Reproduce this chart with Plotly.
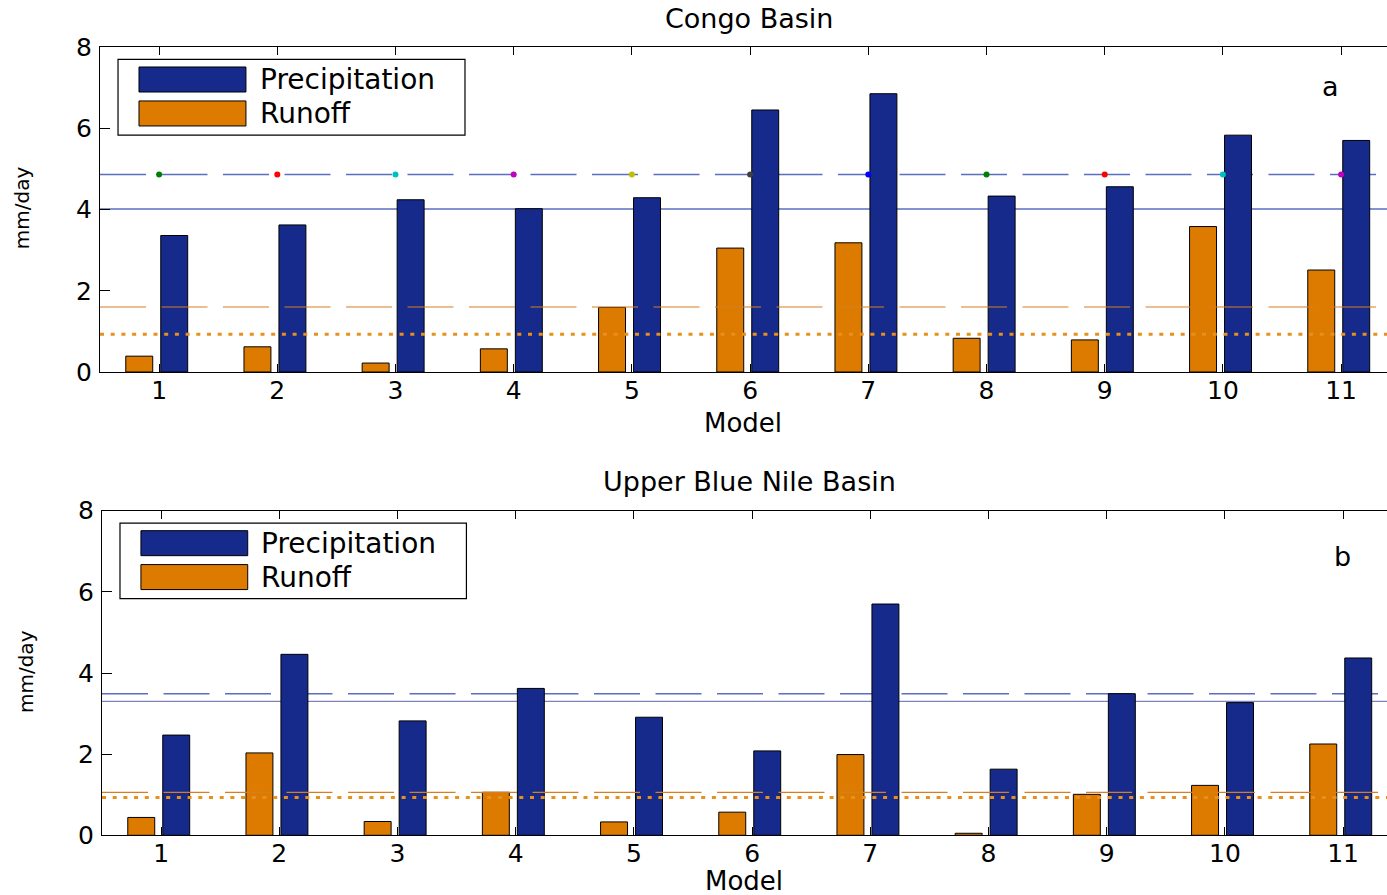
import plotly.graph_objects as go

# ---------------- data ----------------
models = list(range(1, 12))
tick_labels = [str(m) for m in models]

congo_precip = [3.36, 3.62, 4.24, 4.02, 4.29, 6.45, 6.85, 4.33, 4.56, 5.83, 5.70]
congo_runoff = [0.39, 0.62, 0.22, 0.57, 1.59, 3.05, 3.18, 0.83, 0.79, 3.58, 2.51]
congo_precip_dashed = 4.86
congo_precip_solid = 4.01
congo_runoff_dashed = 1.60
congo_runoff_dotted = 0.93

nile_precip = [2.47, 4.46, 2.82, 3.62, 2.91, 2.08, 5.70, 1.63, 3.49, 3.27, 4.37]
nile_runoff = [0.44, 2.03, 0.34, 1.06, 0.33, 0.57, 1.99, 0.05, 1.01, 1.23, 2.25]
nile_precip_dashed = 3.49
nile_precip_solid = 3.30
nile_runoff_dashed = 1.06
nile_runoff_dotted = 0.93

model_dot_colors = ["#008000", "#ff0000", "#00bfbf", "#bf00bf", "#bfbf00",
                    "#404040", "#0000ff", "#008000", "#ff0000", "#00bfbf", "#bf00bf"]

series_names = ["Precipitation", "Runoff"]
panel_titles = ["Congo Basin", "Upper Blue Nile Basin"]
panel_letters = ["a", "b"]

# ---------------- styles ----------------
W, H = 1387, 895
FONT = "DejaVu Sans"
BLUE = "#152a8a"
ORANGE = "#dd7b00"
LINE_BLUE = "#5b6ec0"
LINE_BLUE2 = "#7c84bc"
LINE_ORANGE = "#d57f22"
DOT_ORANGE = "#e8901e"
DASH = "46px,15.5px"
DOT = "4px,6.7px"
BAR_W = 0.228

fig = go.Figure()

panels = [
    dict(xa="x", ya="y", precip=congo_precip, runoff=congo_runoff,
         pd=congo_precip_dashed, ps=congo_precip_solid, rd=congo_runoff_dashed,
         rdot=congo_runoff_dotted, dots=True, solid_col=LINE_BLUE, solid_w=1.5),
    dict(xa="x2", ya="y2", precip=nile_precip, runoff=nile_runoff,
         pd=nile_precip_dashed, ps=nile_precip_solid, rd=nile_runoff_dashed,
         rdot=nile_runoff_dotted, dots=False, solid_col=LINE_BLUE2, solid_w=1.1),
]

shapes = []
annotations = []

for p in panels:
    xa, ya = p["xa"], p["ya"]
    xd = f"{xa} domain"
    # blue reference lines (behind bars)
    shapes.append(dict(type="line", xref=xd, yref=ya, x0=0, x1=1, y0=p["pd"], y1=p["pd"],
                       line=dict(color=LINE_BLUE, width=1.5, dash=DASH), layer="below"))
    shapes.append(dict(type="line", xref=xd, yref=ya, x0=0, x1=1, y0=p["ps"], y1=p["ps"],
                       line=dict(color=p["solid_col"], width=p["solid_w"]), layer="below"))
    if p["dots"]:
        fig.add_trace(go.Scatter(x=models, y=[p["pd"]] * len(models), mode="markers",
                                 xaxis=xa, yaxis=ya,
                                 marker=dict(color=model_dot_colors, size=6, line=dict(width=0)),
                                 showlegend=False, hoverinfo="skip"))
    # bars
    fig.add_trace(go.Bar(x=models, y=p["runoff"], xaxis=xa, yaxis=ya, name=series_names[1],
                         width=BAR_W, offset=-0.282,
                         marker=dict(color=ORANGE, line=dict(color="black", width=1)),
                         showlegend=False))
    fig.add_trace(go.Bar(x=models, y=p["precip"], xaxis=xa, yaxis=ya, name=series_names[0],
                         width=BAR_W, offset=0.014,
                         marker=dict(color=BLUE, line=dict(color="black", width=1)),
                         showlegend=False))
    # orange reference lines (on top)
    shapes.append(dict(type="line", xref=xd, yref=ya, x0=0, x1=1, y0=p["rd"], y1=p["rd"],
                       line=dict(color=LINE_ORANGE, width=1.2, dash=DASH), layer="above"))
    shapes.append(dict(type="line", xref=xd, yref=ya, x0=0, x1=1, y0=p["rdot"], y1=p["rdot"],
                       line=dict(color=DOT_ORANGE, width=3, dash=DOT), layer="above"))

axis_common = dict(showgrid=False, zeroline=False, showline=True, linecolor="black",
                   linewidth=1.2, ticks="inside", tickcolor="black", automargin=False,
                   tickfont=dict(family=FONT, size=25, color="black"))

top_dom = [1 - 372 / H, 1 - 47 / H]
bot_dom = [1 - 835.3 / H, 1 - 510.7 / H]

fig.update_layout(
    width=W, height=H, autosize=False,
    margin=dict(l=0, r=0, t=0, b=0, pad=0, autoexpand=False),
    paper_bgcolor="white", plot_bgcolor="white",
    barmode="overlay", showlegend=False,
    xaxis=dict(domain=[100 / W, 1], range=[0.5, 0.5 + 1287 / 118.2], anchor="y",
               tickvals=models, ticktext=tick_labels, mirror="ticks", ticklen=8,
               ticklabelstandoff=-4, **axis_common),
    yaxis=dict(domain=top_dom, range=[0, 8], dtick=2, anchor="x", ticklen=10,
               ticklabelstandoff=2, **axis_common),
    xaxis2=dict(domain=[102 / W, 1], range=[0.5, 0.5 + 1285 / 118.2], anchor="y2",
                tickvals=models, ticktext=tick_labels, mirror="ticks", ticklen=8,
                ticklabelstandoff=-4, **axis_common),
    yaxis2=dict(domain=bot_dom, range=[0, 8], dtick=2, anchor="x2", ticklen=10,
                ticklabelstandoff=2, **axis_common),
)

# custom legends, titles and labels
for i, (xa, ya) in enumerate([("x", "y"), ("x2", "y2")]):
    xr, yr = f"{xa} domain", f"{ya} domain"
    shapes.append(dict(type="rect", xref=xr, yref=yr, x0=0.014, x1=0.2836, y0=0.729, y1=0.962,
                       line=dict(color="black", width=1.2), fillcolor="white", layer="above"))
    shapes.append(dict(type="rect", xref=xr, yref=yr, x0=0.0303, x1=0.1134, y0=0.8615, y1=0.9385,
                       line=dict(color="black", width=1), fillcolor=BLUE, layer="above"))
    shapes.append(dict(type="rect", xref=xr, yref=yr, x0=0.0303, x1=0.1134, y0=0.757, y1=0.834,
                       line=dict(color="black", width=1), fillcolor=ORANGE, layer="above"))
    annotations.append(dict(xref=xr, yref=yr, x=0.1225, y=0.899, text=series_names[0],
                            showarrow=False, xanchor="left", yanchor="middle",
                            font=dict(family=FONT, size=28, color="black")))
    annotations.append(dict(xref=xr, yref=yr, x=0.1225, y=0.795, text=series_names[1],
                            showarrow=False, xanchor="left", yanchor="middle",
                            font=dict(family=FONT, size=28, color="black")))
    annotations.append(dict(xref=xr, yref=yr, x=0.504, y=1.089, text=panel_titles[i],
                            showarrow=False, xanchor="center", yanchor="middle",
                            font=dict(family=FONT, size=27, color="black")))
    annotations.append(dict(xref=xr, yref=yr, x=0.4995, y=[-0.156, -0.140][i], text="Model",
                            showarrow=False, xanchor="center", yanchor="middle",
                            font=dict(family=FONT, size=26, color="black")))
    annotations.append(dict(xref=xr, yref=yr, x=[0.956, 0.965][i], y=[0.877, 0.860][i],
                            text=panel_letters[i], showarrow=False, xanchor="center",
                            yanchor="middle", font=dict(family=FONT, size=27, color="black")))
    annotations.append(dict(xref="paper", yref=yr, x=[22, 26][i] / W, y=[0.504, 0.503][i],
                            text="mm/day", showarrow=False, textangle=-90,
                            xanchor="center", yanchor="middle",
                            font=dict(family=FONT, size=20, color="black")))

fig.update_layout(shapes=shapes, annotations=annotations)

fig.write_html("out.html")
